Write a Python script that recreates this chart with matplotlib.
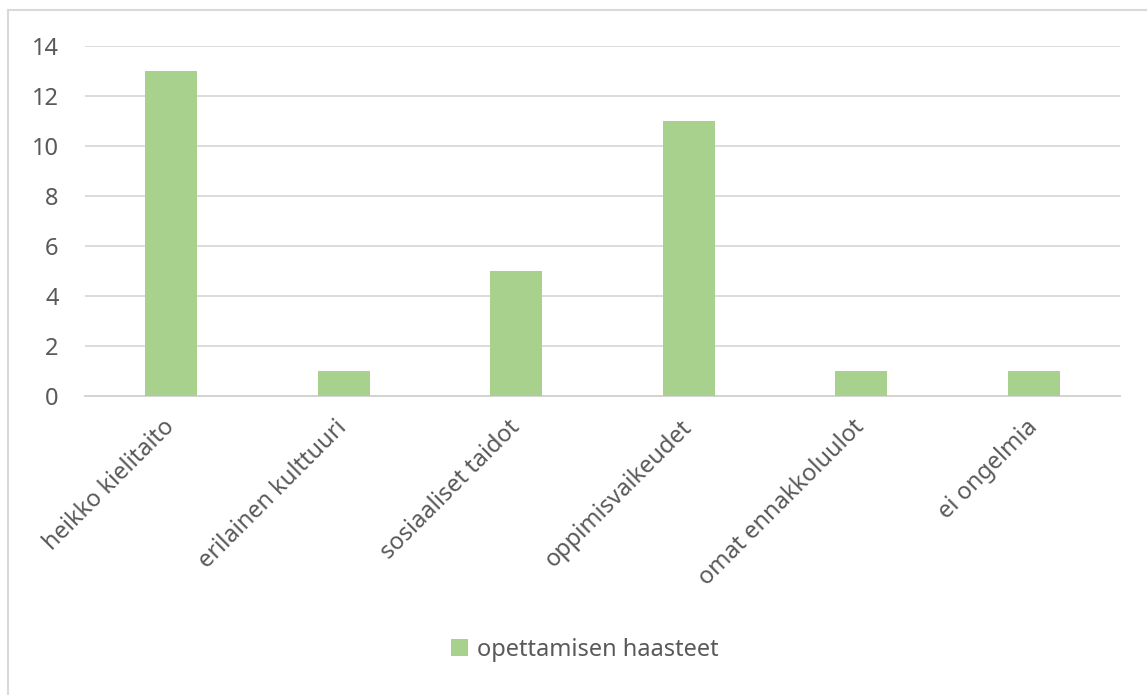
import matplotlib
matplotlib.use("Agg")
import matplotlib.pyplot as plt
from matplotlib.lines import Line2D

plt.rcParams['font.family'] = ['Noto Sans', 'DejaVu Sans']

categories = ["heikko kielitaito", "erilainen kulttuuri", "sosiaaliset taidot",
              "oppimisvaikeudet", "omat ennakkoluulot", "ei ongelmia"]
values = [13, 1, 5, 11, 1, 1]
series_name = "opettamisen haasteet"
yticks = [0, 2, 4, 6, 8, 10, 12, 14]

bar_color = "#a9d18e"
text_color = "#595959"

fig = plt.figure(figsize=(11.47, 6.95), dpi=100)
ax = fig.add_axes([85 / 1147, 0.4302, 1035 / 1147, 0.5036])

x = range(len(categories))
ax.bar(x, values, width=0.30, color=bar_color, label=series_name, zorder=3)

ax.set_xlim(-0.5, len(categories) - 0.5)
ax.set_ylim(0, 14)
ax.set_yticks(yticks)
ax.yaxis.grid(True, color="#d9d9d9", linewidth=1.3, zorder=0)
ax.set_xticks(list(x))
ax.set_xticklabels(categories, rotation=45, ha="right", va="center",
                   rotation_mode="anchor", fontsize=17, color=text_color)
ax.tick_params(axis="y", labelsize=17, labelcolor=text_color, length=0, pad=19)
ax.tick_params(axis="x", length=0, pad=20)
for side in ["top", "right", "left"]:
    ax.spines[side].set_visible(False)
ax.spines["bottom"].set_color("#d0d0d0")
ax.spines["bottom"].set_linewidth(1.3)

fig.legend(loc="center", bbox_to_anchor=(0.51, 0.065), frameon=False,
           fontsize=17, labelcolor=text_color, handlelength=0.7, handleheight=0.7,
           handletextpad=0.4)

# chart frame: only the left and top edges fall inside the image
frame = dict(color="#d9d9d9", linewidth=1.5, transform=fig.transFigure)
fig.add_artist(Line2D([8 / 1147, 8 / 1147], [0, 1 - 10 / 695], **frame))
fig.add_artist(Line2D([8 / 1147, 1], [1 - 10 / 695, 1 - 10 / 695], **frame))

fig.savefig("out.png", dpi=100)
